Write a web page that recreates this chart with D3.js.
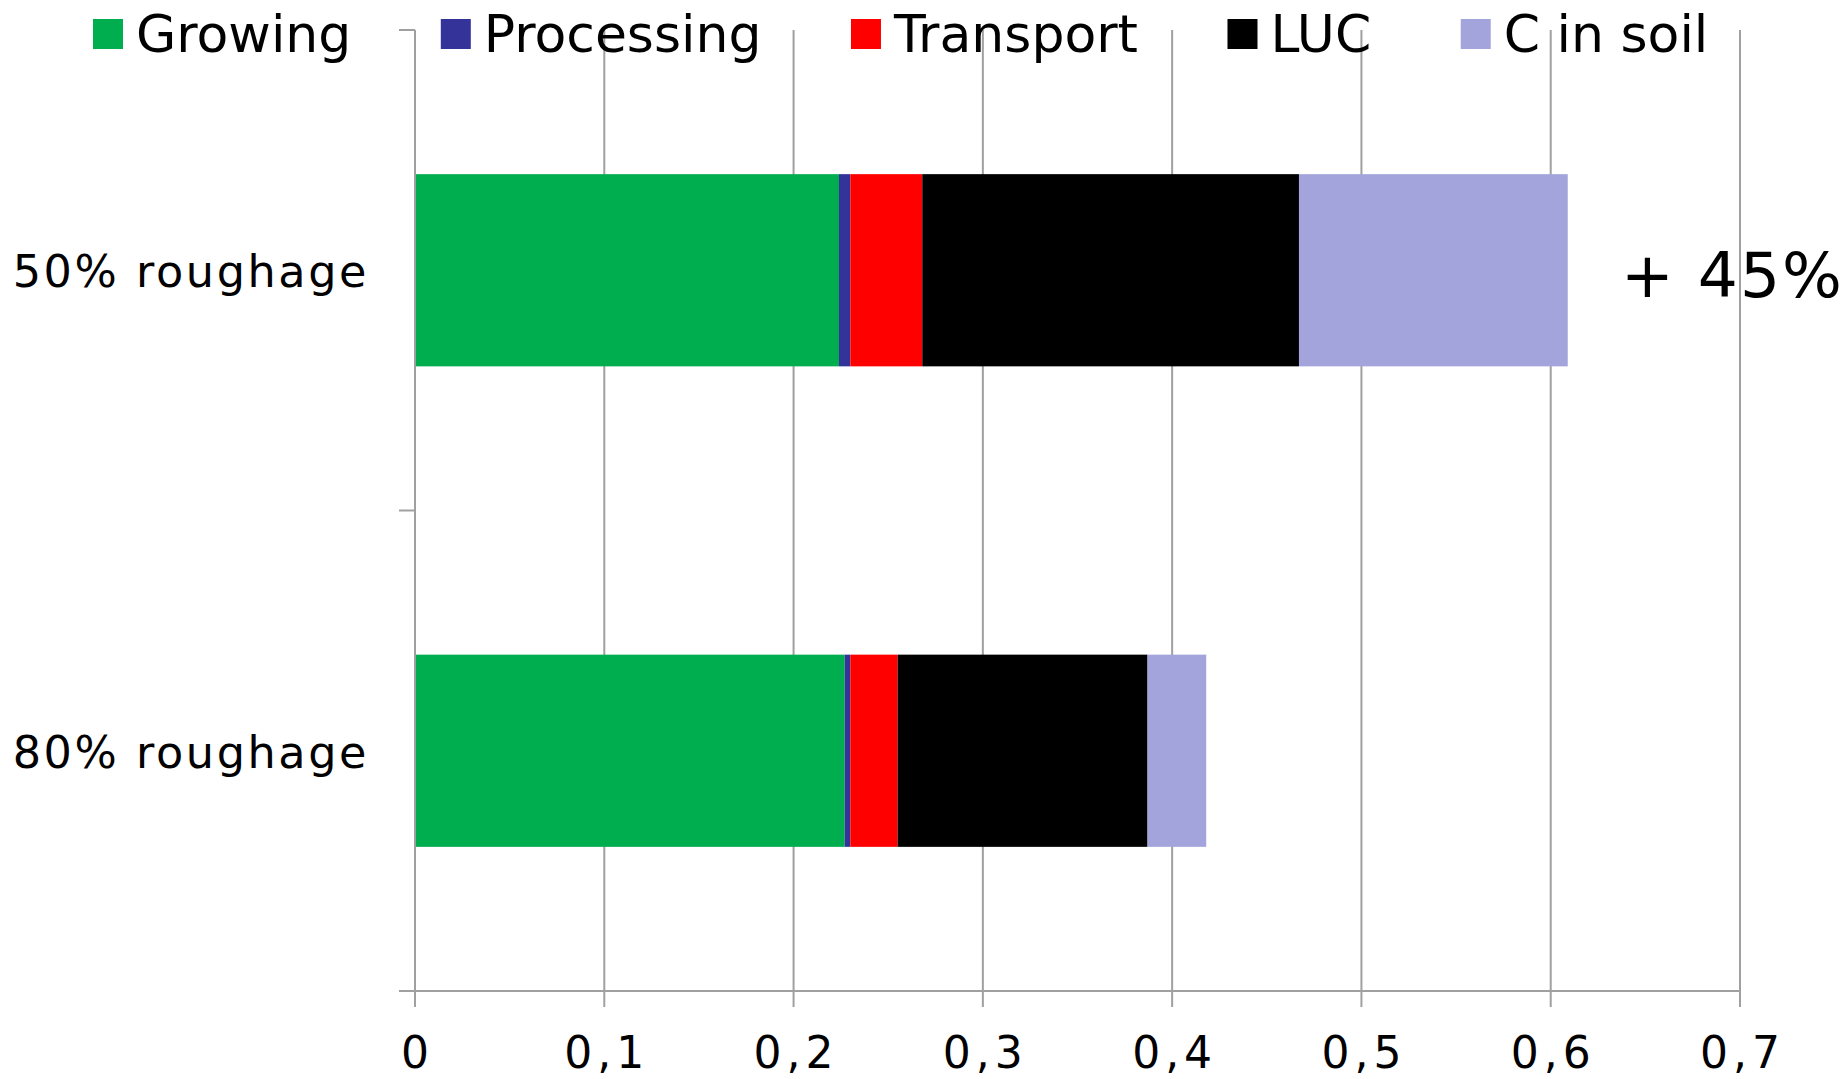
<!DOCTYPE html>
<html><head><meta charset="utf-8">
<script src="https://cdn.jsdelivr.net/npm/d3@7"></script>
<style>html,body{margin:0;padding:0;background:#fff;}</style>
</head><body>
<svg id="chart" width="1847" height="1079"></svg>
<script>
const categories = ["50% roughage", "80% roughage"];
const seriesNames = ["Growing", "Processing", "Transport", "LUC", "C in soil"];
const growing    = [0.224, 0.227];
const processing = [0.006, 0.003];
const transport  = [0.038, 0.025];
const luc        = [0.199, 0.132];
const cInSoil    = [0.142, 0.031];
const xTicks = [0, 0.1, 0.2, 0.3, 0.4, 0.5, 0.6, 0.7];
const xTickLabels = ["0", "0,1", "0,2", "0,3", "0,4", "0,5", "0,6", "0,7"];
const annotation = "+ 45%";

(function () {
const colors = ["#00AE4F", "#333399", "#FF0000", "#000000", "#A4A4DD"];
const seriesValues = [growing, processing, transport, luc, cInSoil];

const svg = d3.select("#chart");
const font = "'DejaVu Sans', sans-serif";
const gridColor = "#a0a0a0";

const pLeft = 415, pRight = 1740, pTop = 30, pBottom = 991;
const x = d3.scaleLinear().domain([0, 0.7]).range([pLeft, pRight]);
const y = d3.scaleBand().domain(categories).range([pTop, pBottom]).paddingInner(0.6).paddingOuter(0.3);

// gridlines
svg.append("g").selectAll("line").data(xTicks.slice(1)).join("line")
  .attr("x1", d => x(d)).attr("x2", d => x(d))
  .attr("y1", pTop).attr("y2", pBottom)
  .attr("stroke", gridColor).attr("stroke-width", 2);

// stacked data
const rows = categories.map((c, i) => {
  const o = {category: c};
  seriesNames.forEach((s, j) => o[s] = seriesValues[j][i]);
  return o;
});
const stack = d3.stack().keys(seriesNames)(rows);

svg.append("g").selectAll("g").data(stack).join("g")
  .attr("fill", (d, i) => colors[i])
  .selectAll("rect").data(d => d).join("rect")
  .attr("x", d => x(d[0]))
  .attr("width", d => x(d[1]) - x(d[0]))
  .attr("y", d => y(d.data.category))
  .attr("height", y.bandwidth());

// y axis
const yAxisG = svg.append("g");
yAxisG.append("line").attr("x1", pLeft).attr("x2", pLeft).attr("y1", pTop).attr("y2", pBottom)
  .attr("stroke", gridColor).attr("stroke-width", 2);
const yTickPos = [pTop, (pTop + pBottom) / 2, pBottom];
yAxisG.selectAll("line.t").data(yTickPos).join("line").attr("class", "t")
  .attr("x1", pLeft - 16).attr("x2", pLeft).attr("y1", d => d).attr("y2", d => d)
  .attr("stroke", gridColor).attr("stroke-width", 2);
yAxisG.selectAll("text").data(categories).join("text")
  .attr("x", pLeft - 46).attr("y", d => y(d) + y.bandwidth() / 2 + 17)
  .attr("text-anchor", "end")
  .attr("letter-spacing", 2.6)
  .attr("font-family", font).attr("font-size", 44.5).attr("fill", "#000")
  .text(d => d);

// x axis
const xAxisG = svg.append("g");
xAxisG.append("line").attr("x1", pLeft - 16).attr("x2", pRight).attr("y1", pBottom).attr("y2", pBottom)
  .attr("stroke", gridColor).attr("stroke-width", 2);
xAxisG.selectAll("line.t").data(xTicks).join("line").attr("class", "t")
  .attr("x1", d => x(d)).attr("x2", d => x(d)).attr("y1", pBottom).attr("y2", pBottom + 16)
  .attr("stroke", gridColor).attr("stroke-width", 2);
xAxisG.selectAll("text").data(xTicks).join("text")
  .attr("x", d => x(d) + 2.5).attr("y", 1068)
  .attr("text-anchor", "middle")
  .attr("letter-spacing", 5)
  .attr("font-family", font).attr("font-size", 44).attr("fill", "#000")
  .text((d, i) => xTickLabels[i]);

// annotation
svg.append("text")
  .attr("x", 1621).attr("y", 297)
  .attr("letter-spacing", 2)
  .attr("font-family", font).attr("font-size", 63).attr("fill", "#000")
  .text(annotation);

// legend
const legend = svg.append("g");
let lx = 93;
seriesNames.forEach((s, i) => {
  legend.append("rect").attr("x", lx).attr("y", 19).attr("width", 30).attr("height", 30).attr("fill", colors[i]);
  const t = legend.append("text").attr("x", lx + 43).attr("y", 52)
    .attr("font-family", font).attr("font-size", 52).attr("fill", "#000").text(s);
  lx = lx + 43 + t.node().getComputedTextLength() + 89.5;
});
})();
</script>
</body></html>
